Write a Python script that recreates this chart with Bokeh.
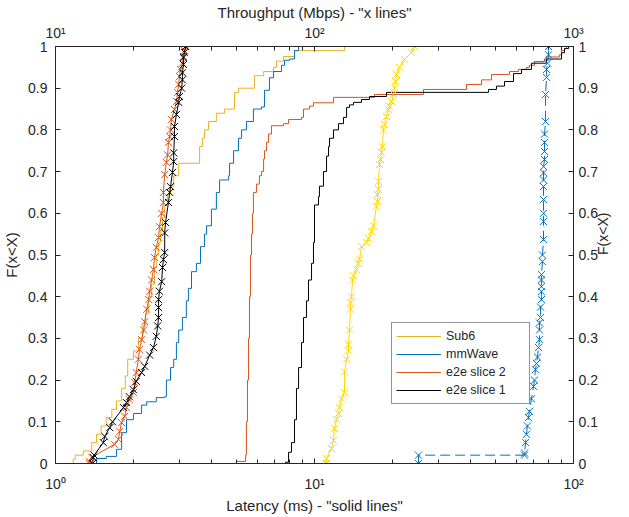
import math
from bokeh.plotting import figure
from bokeh.models import (Range1d, LogScale, LogAxis, LinearAxis, FixedTicker,
                          Legend, LegendItem)
from bokeh.embed import file_html
from bokeh.resources import INLINE

# ---------------- Latency CDFs (ms) : "solid lines" ----------------
sub6_lat = [1.17, 1.17, 1.19, 1.28, 1.38, 1.44, 1.50, 1.57, 1.65, 1.72, 1.80, 1.86,
            1.90, 2.00, 2.09, 2.17, 2.23, 2.29, 2.35, 2.41, 2.45, 2.50, 2.54, 2.59,
            2.64, 2.71, 2.78, 2.86, 2.99, 3.60, 3.69, 3.76, 3.90, 4.18, 4.49, 4.91,
            5.09, 5.56, 5.87, 6.36, 6.95, 7.13, 7.59, 8.37, 13.06]
sub6_F = [0.0, 0.01, 0.02, 0.03, 0.05, 0.07, 0.09, 0.11, 0.13, 0.15, 0.18, 0.21,
          0.25, 0.27, 0.30, 0.33, 0.36, 0.40, 0.43, 0.47, 0.50, 0.53, 0.56, 0.59,
          0.62, 0.645, 0.665, 0.69, 0.72, 0.76, 0.78, 0.80, 0.82, 0.84, 0.85, 0.89,
          0.90, 0.90, 0.93, 0.94, 0.95, 0.965, 0.976, 0.99, 1.0]

mmw_lat = [1.40, 1.44, 1.57, 1.72, 1.80, 1.88, 2.00, 2.15, 2.25, 2.45, 2.64, 2.68,
           2.78, 2.86, 2.93, 2.99, 3.09, 3.20, 3.26, 3.35, 3.50, 3.63, 3.76, 3.83,
           4.00, 4.18, 4.30, 4.66, 4.70, 4.87, 5.09, 5.23, 5.46, 5.81, 6.24, 6.41,
           6.70, 6.95, 7.46, 7.66, 8.01, 8.37, 8.68]
mmw_F = [0.0, 0.012, 0.017, 0.034, 0.074, 0.105, 0.12, 0.14, 0.148, 0.158, 0.16, 0.20,
         0.23, 0.25, 0.29, 0.32, 0.35, 0.39, 0.42, 0.46, 0.48, 0.52, 0.55, 0.57,
         0.61, 0.65, 0.68, 0.69, 0.72, 0.75, 0.78, 0.80, 0.82, 0.85, 0.855, 0.895,
         0.925, 0.94, 0.955, 0.967, 0.97, 0.99, 1.0]

s2_lat = [5.00, 5.00, 5.42, 5.46, 5.51, 5.56, 5.61, 5.66, 5.71, 5.76, 5.81, 5.97,
          6.13, 6.24, 6.36, 6.41, 6.53, 6.64, 6.82, 7.59, 7.94, 8.91, 9.07, 9.56,
          9.91, 11.84, 17.05, 26.36, 38.63, 44.14, 48.25, 56.6, 61.3, 65.8, 67.6,
          70.7, 77.3, 78.7, 88.3, 89.9, 92.3, 94.0]
s2_F = [0.0, 0.005, 0.02, 0.10, 0.20, 0.30, 0.40, 0.50, 0.55, 0.60, 0.65, 0.67,
        0.69, 0.70, 0.73, 0.75, 0.77, 0.79, 0.81, 0.815, 0.825, 0.83, 0.85, 0.857,
        0.865, 0.878, 0.885, 0.897, 0.909, 0.92, 0.933, 0.94, 0.945, 0.95, 0.955,
        0.964, 0.97, 0.975, 0.98, 0.99, 0.995, 1.0]

s1_lat = [7.73, 7.73, 7.94, 8.15, 8.37, 8.52, 8.68, 8.91, 9.07, 9.31, 9.48, 9.74,
          9.91, 10.0, 10.36, 10.45, 10.83, 11.13, 11.33, 11.43, 11.84, 12.38, 12.94,
          13.30, 13.65, 14.15, 15.19, 16.31, 18.97, 46.97, 50.42, 54.15, 58.66,
          63.0, 68.83, 78.7, 89.9, 92.3, 95.7]
s1_F = [0.0, 0.003, 0.027, 0.05, 0.105, 0.18, 0.23, 0.29, 0.35, 0.39, 0.44, 0.48,
        0.53, 0.62, 0.64, 0.665, 0.70, 0.737, 0.76, 0.78, 0.80, 0.815, 0.83,
        0.854, 0.86, 0.866, 0.873, 0.88, 0.89, 0.897, 0.905, 0.916, 0.935,
        0.945, 0.96, 0.97, 0.985, 0.995, 1.0]

# ---------------- Throughput CDFs (Mbps) : "x lines" ----------------
tp_sub6 = [111.3, 111.3, 116.3, 118.4, 119.5, 121.6, 123.8, 124.9, 127.1, 130.6,
           130.6, 133.0, 135.3, 135.3, 136.5, 137.7, 137.7, 139.0, 140.2, 141.4,
           145.3, 147.9, 149.2, 151.9, 158.8, 161.6, 166.0, 169.0, 173.6, 175.1,
           175.1, 176.7, 176.7, 178.2, 179.8, 181.4, 183.0, 184.7, 186.3, 189.7,
           193.1, 194.8, 198.4, 201.8, 203.7, 205.5, 207.3, 213.0, 222.6, 236.9, 243.3]
tpF_sub6 = [0.0, 0.012, 0.036, 0.055, 0.084, 0.105, 0.12, 0.135, 0.155, 0.17,
            0.22, 0.25, 0.27, 0.285, 0.32, 0.37, 0.385, 0.40, 0.44, 0.45,
            0.465, 0.48, 0.49, 0.52, 0.53, 0.54, 0.556, 0.57, 0.617, 0.628,
            0.645, 0.657, 0.676, 0.717, 0.729, 0.746, 0.76, 0.80, 0.813, 0.832,
            0.849, 0.856, 0.868, 0.885, 0.90, 0.916, 0.933, 0.95, 0.969, 0.986, 1.0]

tp_mmw = [252.1, 252.1, 647, 647, 653, 658, 664, 670, 676, 688, 701, 707, 713, 720,
          726, 733, 739, 739, 739, 746, 746, 752, 752, 752, 752, 752, 759, 759, 766,
          766, 766, 766, 766, 766, 766, 766, 773, 773, 773, 773, 780, 780, 787, 787,
          794, 801, 801]
tpF_mmw = [0.0, 0.02, 0.02, 0.025, 0.05, 0.07, 0.09, 0.11, 0.125, 0.155, 0.185, 0.20,
           0.225, 0.24, 0.255, 0.278, 0.297, 0.32, 0.337, 0.35, 0.375, 0.393, 0.412,
           0.424, 0.44, 0.453, 0.484, 0.50, 0.537, 0.58, 0.60, 0.633, 0.664, 0.68,
           0.697, 0.712, 0.729, 0.748, 0.77, 0.79, 0.82, 0.885, 0.926, 0.945, 0.96,
           0.98, 1.0]

tp_s2 = [13.5, 13.5, 13.8, 16.9, 17.5, 17.7, 18.0, 18.5, 18.8, 19.3, 20.0, 20.2,
         20.5, 20.9, 21.1, 21.5, 21.9, 22.1, 22.5, 22.9, 23.1, 23.5, 23.9, 24.1,
         24.5, 25.0, 25.2, 25.7, 26.1, 26.1, 26.4, 26.8, 27.1, 27.3, 27.6, 27.8,
         28.0, 28.8, 29.3, 29.6, 29.9, 30.1, 30.4, 30.9, 31.2, 31.5, 31.8]
tpF_s2 = [0.0, 0.005, 0.015, 0.046, 0.058, 0.077, 0.098, 0.113, 0.134, 0.153, 0.17,
          0.194, 0.218, 0.25, 0.273, 0.297, 0.32, 0.34, 0.37, 0.393, 0.413, 0.44,
          0.465, 0.494, 0.518, 0.542, 0.568, 0.60, 0.626, 0.65, 0.693, 0.722, 0.74,
          0.77, 0.784, 0.80, 0.825, 0.849, 0.868, 0.89, 0.909, 0.928, 0.945, 0.96,
          0.976, 0.99, 1.0]

tp_s1 = [13.9, 14.0, 14.1, 15.3, 15.5, 16.2, 16.6, 18.3, 18.8, 19.3, 20.0, 20.5,
         21.5, 22.1, 23.1, 23.9, 24.5, 24.8, 25.0, 25.0, 25.0, 25.2, 25.7, 25.9,
         26.1, 26.4, 26.4, 26.6, 27.3, 27.6, 27.8, 28.3, 28.6, 28.6, 28.8, 28.8,
         29.3, 29.9, 30.1, 30.7, 30.9, 30.9, 31.2, 31.2, 31.5, 31.8]
tpF_s1 = [0.0, 0.014, 0.02, 0.05, 0.065, 0.086, 0.10, 0.134, 0.146, 0.16, 0.177,
          0.197, 0.218, 0.233, 0.26, 0.278, 0.305, 0.33, 0.35, 0.374, 0.393, 0.413,
          0.436, 0.47, 0.489, 0.506, 0.553, 0.578, 0.626, 0.65, 0.664, 0.698, 0.724,
          0.745, 0.784, 0.808, 0.837, 0.866, 0.88, 0.90, 0.92, 0.937, 0.957, 0.973,
          0.986, 1.0]

legend_labels = ["Sub6", "mmWave", "e2e slice 2", "e2e slice 1"]
y_ticks = [0, 0.1, 0.2, 0.3, 0.4, 0.5, 0.6, 0.7, 0.8, 0.9, 1]

C_SUB6 = "#EDB120"
C_MMW = "#0072BD"
C_S2 = "#D95319"
C_S1 = "#000000"
C_GOLD = "#FFD700"
AX = "#262626"
FONT = "Liberation Sans"

p = figure(frame_width=518, frame_height=417, x_axis_type="log",
           x_range=Range1d(1, 100), y_range=Range1d(0, 1),
           output_backend="svg", toolbar_location=None,
           min_border_left=51, min_border_right=44, min_border_top=39,
           min_border_bottom=53)
p.extra_x_ranges = {"tp": Range1d(10, 1000)}
p.extra_x_scales = {"tp": LogScale()}
p.grid.visible = False
p.outline_line_color = AX
p.background_fill_color = "white"
p.border_fill_color = "white"


def style_axis(ax):
    ax.axis_line_color = AX
    ax.major_tick_line_color = AX
    ax.minor_tick_line_color = AX
    ax.major_tick_in = 5
    ax.major_tick_out = 0
    ax.minor_tick_in = 4
    ax.minor_tick_out = 0
    ax.major_label_text_font = FONT
    ax.major_label_text_font_size = "14px"
    ax.major_label_text_color = AX
    ax.axis_label_text_font = FONT
    ax.axis_label_text_font_size = "15px"
    ax.axis_label_text_font_style = "normal"
    ax.axis_label_text_color = AX


# bottom axis
bx = p.xaxis[0]
bx.ticker = FixedTicker(ticks=[1, 10, 100],
                        minor_ticks=[2, 3, 4, 5, 6, 7, 8, 9, 20, 30, 40, 50, 60, 70, 80, 90])
bx.major_label_overrides = {1: "10⁰", 10: "10¹", 100: "10²"}
bx.axis_label = 'Latency (ms) - "solid lines"'
style_axis(bx)
bx.major_label_standoff = 12
bx.axis_label_standoff = 2

# top axis
tx = LogAxis(x_range_name="tp",
             ticker=FixedTicker(ticks=[10, 100, 1000],
                                minor_ticks=[20, 30, 40, 50, 60, 70, 80, 90,
                                             200, 300, 400, 500, 600, 700, 800, 900]))
tx.major_label_overrides = {10: "10¹", 100: "10²", 1000: "10³"}
tx.axis_label = 'Throughput (Mbps) - "x lines"'
style_axis(tx)
tx.major_label_standoff = 6
tx.axis_label_standoff = 1
p.add_layout(tx, "above")

# left axis
ly = p.yaxis[0]
ly.ticker = FixedTicker(ticks=y_ticks, minor_ticks=[])
ly.major_label_overrides = {0: "0", 1: "1"}
ly.axis_label = "F(x<X)"
style_axis(ly)
ly.major_label_standoff = 8

# right axis, title reading bottom-to-top like the left one
ry = LinearAxis(ticker=FixedTicker(ticks=y_ticks, minor_ticks=[]))
ry.major_label_overrides = {0: "0", 1: "1"}
ry.axis_label = "F(x<X)"
style_axis(ry)
ry.axis_label_text_font_size = "14px"
ry.major_label_standoff = 5
ry.axis_label_standoff = 2
if "axis_label_orientation" in ry.properties():
    ry.axis_label_orientation = math.pi / 2
p.add_layout(ry, "right")

# solid latency lines
r_sub6 = p.step(sub6_lat, sub6_F, mode="after", line_color=C_SUB6, line_width=1)
r_mmw = p.step(mmw_lat, mmw_F, mode="after", line_color=C_MMW, line_width=1)
r_s2 = p.step(s2_lat, s2_F, mode="after", line_color=C_S2, line_width=1)
r_s1 = p.step(s1_lat, s1_F, mode="after", line_color=C_S1, line_width=1)

# throughput x lines
MS = 10
p.line(tp_sub6, tpF_sub6, x_range_name="tp", line_color=C_GOLD, line_width=1)
p.scatter(tp_sub6, tpF_sub6, x_range_name="tp", marker="x", size=MS,
          line_color=C_GOLD, line_width=1)
p.line(tp_mmw, tpF_mmw, x_range_name="tp", line_color=C_MMW, line_width=1,
       line_dash="10 5")
p.scatter(tp_mmw, tpF_mmw, x_range_name="tp", marker="x", size=MS,
          line_color=C_MMW, line_width=1)
p.line(tp_s2, tpF_s2, x_range_name="tp", line_color=C_S2, line_width=1)
p.scatter(tp_s2, tpF_s2, x_range_name="tp", marker="x", size=MS,
          line_color=C_S2, line_width=1)
p.line(tp_s1, tpF_s1, x_range_name="tp", line_color=C_S1, line_width=1)
p.scatter(tp_s1, tpF_s1, x_range_name="tp", marker="x", size=MS,
          line_color=C_S1, line_width=1)

legend = Legend(items=[LegendItem(label=legend_labels[0], renderers=[r_sub6]),
                       LegendItem(label=legend_labels[1], renderers=[r_mmw]),
                       LegendItem(label=legend_labels[2], renderers=[r_s2]),
                       LegendItem(label=legend_labels[3], renderers=[r_s1])],
                location=(336, 59), orientation="vertical")
legend.label_text_font = FONT
legend.label_text_font_size = "12.5px"
legend.label_text_color = AX
legend.glyph_width = 45
legend.glyph_height = 18
legend.label_height = 18
legend.label_width = 79
legend.label_standoff = 5
legend.spacing = 0
legend.padding = 4
legend.margin = 0
legend.border_line_color = AX
legend.border_line_width = 1
legend.background_fill_alpha = 1
p.add_layout(legend, "center")

open("out.html", "w").write(file_html(p, INLINE))
